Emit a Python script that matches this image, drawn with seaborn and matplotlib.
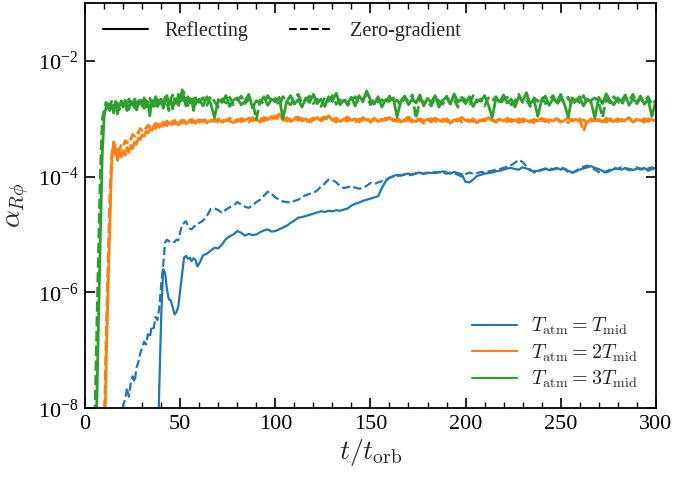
import numpy as np
import pandas as pd
import matplotlib
matplotlib.use("Agg")
import matplotlib.pyplot as plt
import seaborn as sns
from matplotlib.lines import Line2D
from matplotlib.ticker import FixedLocator, MultipleLocator, FuncFormatter, NullLocator

# ---------------- data (log10 of alpha_Rphi) ----------------
# time grid: 1 t_orb spacing up to 59, then 2 t_orb spacing up to 300
t_early = list(range(0, 60))
t_late = list(range(60, 301, 2))
t_orb = np.array(t_early + t_late, dtype=float)

blue_reflect = [
    -9, -9, -9, -9, -9, -9, -9, -9, -9, -9,
    -9, -9, -9, -9, -9, -9, -9, -9, -9, -9,
    -9, -9, -9, -9, -9, -9, -9, -9, -9, -9,
    -9, -9, -9, -9, -9, -9, -9, -9, -9, -7.6,
    -6.4, -5.6, -5.66, -5.95, -6.12, -6.14, -6.25, -6.38, -6.34, -6.24,
    -5.95, -5.68, -5.40, -5.37, -5.42, -5.40, -5.46, -5.41, -5.44, -5.55,
    # t = 60 .. 300 step 2
    -5.50, -5.36, -5.33, -5.28, -5.23, -5.24, -5.17, -5.08, -5.03, -5.00,
    -4.94, -4.97, -5.02, -4.99, -5.01, -5.00, -4.96, -4.93, -4.91, -4.95,
    -4.94, -4.91, -4.88, -4.85, -4.80, -4.76, -4.71, -4.70, -4.68, -4.66,
    -4.64, -4.62, -4.60, -4.61, -4.59, -4.60, -4.58, -4.59, -4.57, -4.55,
    -4.50, -4.47, -4.45, -4.42, -4.40, -4.38, -4.36, -4.34, -4.20, -4.08,
    -4.02, -3.99, -3.97, -3.98, -3.96, -3.95, -3.97, -3.94, -3.93, -3.95,
    -3.93, -3.94, -3.92, -3.93, -3.91, -3.93, -3.95, -3.92, -3.94, -3.96,
    -4.09, -4.10, -4.05, -3.99, -3.97, -3.95, -3.94, -3.93, -3.91, -3.90,
    -3.88, -3.86, -3.85, -3.87, -3.88, -3.84, -3.86, -3.89, -3.91, -3.90,
    -3.88, -3.86, -3.89, -3.87, -3.85, -3.88, -3.86, -3.90, -3.93, -3.91,
    -3.88, -3.86, -3.84, -3.82, -3.85, -3.87, -3.90, -3.93, -3.90, -3.87,
    -3.86, -3.88, -3.85, -3.87, -3.89, -3.86, -3.88, -3.85, -3.90, -3.87,
    -3.85,
]

blue_zerograd = [
    -9, -9, -9, -9, -9, -9, -9, -9, -9, -9,
    -9, -9, -9, -9, -9, -9, -9, -9, -9, -9,
    -7.95, -7.85, -7.65, -7.80, -7.55, -7.45, -7.55, -7.30, -7.20, -7.05,
    -6.95, -6.85, -6.90, -6.72, -6.78, -6.58, -6.62, -6.42, -6.48, -6.26,
    -5.85, -5.55, -5.14, -5.09, -5.12, -5.10, -5.12, -5.13, -5.09, -5.10,
    -4.95, -4.83, -4.80, -4.77, -4.85, -4.90, -4.91, -4.87, -4.84, -4.81,
    # t = 60 .. 300 step 2
    -4.80, -4.76, -4.68, -4.56, -4.55, -4.58, -4.63, -4.57, -4.53, -4.50,
    -4.44, -4.48, -4.52, -4.54, -4.50, -4.44, -4.40, -4.33, -4.26, -4.30,
    -4.36, -4.40, -4.43, -4.44, -4.45, -4.42, -4.40, -4.35, -4.32, -4.30,
    -4.28, -4.24, -4.17, -4.12, -4.05, -4.06, -4.10, -4.16, -4.20, -4.18,
    -4.17, -4.19, -4.21, -4.19, -4.16, -4.11, -4.13, -4.10, -4.08, -4.05,
    -4.02, -4.00, -3.99, -3.98, -3.97, -3.98, -3.96, -3.95, -3.94, -3.95,
    -3.94, -3.93, -3.94, -3.92, -3.93, -3.95, -3.93, -3.94, -3.97, -4.00,
    -3.96, -3.93, -3.95, -3.94, -3.92, -3.93, -3.91, -3.90, -3.88, -3.87,
    -3.85, -3.83, -3.80, -3.76, -3.71, -3.75, -3.82, -3.88, -3.93, -3.91,
    -3.89, -3.87, -3.85, -3.88, -3.86, -3.84, -3.87, -3.92, -3.94, -3.90,
    -3.86, -3.83, -3.81, -3.84, -3.88, -3.92, -3.94, -3.91, -3.88, -3.85,
    -3.87, -3.84, -3.86, -3.89, -3.87, -3.84, -3.86, -3.88, -3.86, -3.84,
    -3.87,
]

orange_reflect = [
    -9, -9, -9, -9, -9, -9, -9, -9, -9, -9,
    -9, -7.3, -6.0, -4.8, -3.7, -3.40, -3.52, -3.72, -3.58, -3.66,
    -3.55, -3.63, -3.50, -3.58, -3.46, -3.52, -3.40, -3.44, -3.33, -3.36,
    -3.28, -3.30, -3.22, -3.25, -3.18, -3.20, -3.14, -3.17, -3.12, -3.15,
    -3.10, -3.13, -3.08, -3.12, -3.06, -3.10, -3.04, -3.09, -3.07, -3.11,
    -3.05, -3.08, -3.03, -3.09, -3.06, -3.02, -3.07, -3.04, -3.08, -3.03,
    # t = 60 .. 300 step 2
    -3.06, -3.02, -3.07, -3.03, -3.05, -3.00, -3.06, -3.02, -3.04, -3.07,
    -3.01, -3.05, -3.03, -2.99, -3.04, -3.01, -3.06, -2.98, -3.02, -2.96,
    -3.00, -2.92, -3.03, -2.98, -3.05, -3.01, -2.97, -3.04, -3.00, -3.06,
    -3.02, -2.98, -3.04, -3.00, -2.95, -3.03, -2.99, -3.05, -3.01, -2.97,
    -3.03, -3.00, -3.06, -2.98, -3.02, -3.04, -2.99, -3.05, -3.01, -3.03,
    -2.98, -3.04, -3.00, -3.06, -3.02, -2.97, -3.03, -3.05, -3.00, -3.04,
    -3.01, -3.06, -2.99, -3.03, -3.05, -3.00, -3.08, -3.02, -3.04, -2.98,
    -3.03, -3.05, -3.00, -3.07, -3.02, -3.04, -2.98, -3.03, -3.06, -3.01,
    -3.04, -2.99, -3.05, -3.02, -3.07, -3.00, -3.03, -3.06, -3.01, -3.04,
    -2.99, -3.05, -3.02, -3.04, -3.00, -3.06, -3.03, -2.98, -3.04, -3.01,
    -3.05, -3.02, -3.07, -3.00, -3.04, -3.01, -3.06, -2.99, -3.03, -3.05,
    -3.00, -3.04, -3.02, -2.98, -3.05, -3.01, -3.03, -3.06, -3.00, -3.02,
    -3.04,
]

orange_zerograd = [
    -9, -9, -9, -9, -9, -9, -9, -9, -9, -9,
    -8.4, -6.8, -5.5, -4.3, -3.6, -3.48, -3.62, -3.50, -3.56, -3.44,
    -3.48, -3.38, -3.42, -3.33, -3.36, -3.27, -3.30, -3.22, -3.25, -3.17,
    -3.20, -3.14, -3.17, -3.11, -3.15, -3.09, -3.13, -3.08, -3.12, -3.07,
    -3.11, -3.06, -3.09, -3.04, -3.08, -3.05, -3.10, -3.03, -3.07, -3.04,
    -3.08, -3.02, -3.06, -3.03, -3.07, -3.05, -3.01, -3.06, -3.03, -3.07,
    # t = 60 .. 300 step 2
    -3.02, -3.05, -3.00, -3.04, -3.01, -3.06, -3.02, -3.04, -2.99, -3.03,
    -3.05, -3.00, -3.02, -3.06, -2.98, -3.03, -3.00, -3.04, -2.97, -3.01,
    -2.95, -3.02, -2.99, -3.04, -3.00, -2.96, -3.03, -2.99, -3.05, -3.02,
    -2.99, -3.03, -3.00, -2.97, -3.04, -3.01, -3.06, -2.98, -3.02, -3.04,
    -3.00, -3.05, -3.01, -3.03, -2.98, -3.06, -3.02, -3.00, -3.04, -2.99,
    -3.03, -3.01, -3.05, -2.99, -3.04, -3.02, -3.06, -3.00, -3.03, -3.08,
    -3.02, -3.00, -3.04, -3.06, -3.01, -3.05, -3.02, -3.04, -3.00, -3.06,
    -3.01, -3.03, -3.05, -2.99, -3.04, -3.00, -3.06, -3.02, -3.04, -3.00,
    -3.02, -3.05, -3.01, -3.04, -3.00, -3.06, -3.02, -3.03, -3.07, -3.00,
    -3.04, -3.01, -3.06, -3.02, -3.00, -3.05, -3.03, -3.07, -3.01, -3.04,
    -3.00, -3.22, -3.03, -3.05, -3.01, -3.04, -3.02, -3.06, -3.00, -3.03,
    -3.05, -3.01, -3.04, -3.00, -3.06, -3.02, -3.04, -3.00, -3.05, -3.01,
    -3.03,
]

green_reflect = [
    -9, -9, -9, -9, -9, -9, -8.1, -6.5, -5.0, -3.6,
    -2.95, -2.80, -2.74, -2.86, -2.76, -2.83, -2.70, -2.92, -2.78, -2.72,
    -2.80, -2.68, -2.75, -2.84, -2.70, -2.77, -2.66, -2.85, -2.73, -2.69,
    -2.78, -2.64, -2.80, -2.71, -2.95, -2.68, -2.74, -2.62, -2.79, -2.70,
    -2.66, -2.82, -2.72, -2.60, -2.76, -2.69, -2.83, -2.65, -2.74, -2.58,
    -2.70, -2.50, -2.66, -2.78, -2.62, -2.73, -2.68, -2.86, -2.64, -2.71,
    # t = 60 .. 300 step 2
    -2.66, -2.78, -2.62, -2.74, -2.98, -2.67, -2.72, -2.60, -2.79, -2.68,
    -2.64, -2.76, -2.70, -2.58, -2.81, -2.69, -2.73, -2.62, -2.77, -2.66,
    -2.71, -2.63, -3.00, -2.70, -2.60, -2.75, -2.67, -2.80, -2.64, -2.72,
    -2.58, -2.74, -2.66, -2.79, -2.62, -2.70, -2.56, -2.76, -2.68, -2.73,
    -2.63, -2.78, -2.60, -2.71, -2.52, -2.68, -2.75, -2.62, -2.80, -2.67,
    -2.70, -2.64, -2.97, -2.69, -2.61, -2.76, -2.66, -2.73, -2.59, -2.78,
    -2.65, -2.72, -2.60, -2.80, -2.68, -2.63, -2.75, -2.57, -2.71, -2.66,
    -2.74, -2.62, -2.79, -2.67, -2.70, -2.60, -2.76, -2.98, -2.65, -2.71,
    -2.59, -2.73, -2.66, -2.80, -2.62, -2.70, -2.55, -2.74, -2.67, -2.96,
    -2.68, -2.61, -2.77, -2.65, -2.72, -2.58, -2.75, -2.97, -2.64, -2.70,
    -2.62, -2.78, -2.66, -2.71, -2.99, -2.63, -2.74, -2.57, -2.69, -2.76,
    -2.64, -2.70, -2.59, -2.77, -2.66, -2.72, -2.61, -2.75, -2.67, -2.96,
    -2.70,
]

green_zerograd = [
    -9, -9, -9, -9, -9, -8.3, -6.8, -5.3, -3.9, -3.0,
    -2.85, -2.72, -2.88, -2.76, -2.70, -2.90, -2.79, -2.73, -2.84, -2.69,
    -2.77, -2.71, -2.86, -2.66, -2.78, -2.72, -2.81, -2.67, -2.76, -2.63,
    -2.74, -2.82, -2.68, -2.77, -2.65, -2.73, -2.84, -2.69, -2.61, -2.75,
    -2.70, -2.78, -2.63, -2.72, -2.86, -2.66, -2.59, -2.74, -2.68, -2.80,
    -2.63, -2.71, -2.54, -2.69, -2.77, -2.65, -2.72, -2.60, -2.75, -2.67,
    # t = 60 .. 300 step 2
    -2.72, -2.64, -2.77, -2.61, -2.70, -2.80, -2.66, -2.73, -2.63, -2.76,
    -2.69, -2.61, -2.74, -2.66, -2.70, -3.02, -2.68, -2.75, -2.60, -2.71,
    -2.65, -2.78, -2.62, -2.70, -2.76, -2.64, -2.58, -2.73, -2.68, -2.61,
    -2.74, -2.66, -2.79, -2.63, -2.70, -2.60, -2.75, -2.68, -2.64, -2.77,
    -2.69, -2.62, -2.73, -2.66, -2.58, -2.76, -2.64, -2.71, -2.67, -2.74,
    -2.61, -2.72, -2.68, -2.77, -2.63, -2.70, -2.59, -3.00, -2.66, -2.72,
    -2.70, -2.78, -2.64, -2.69, -2.75, -2.61, -2.73, -2.67, -2.80, -2.63,
    -2.68, -2.75, -2.60, -2.71, -2.66, -2.78, -2.64, -2.70, -2.62, -2.74,
    -2.67, -2.63, -2.76, -2.69, -2.58, -2.72, -2.66, -2.79, -2.64, -2.70,
    -2.62, -2.74, -2.68, -2.60, -2.76, -2.66, -2.71, -2.63, -2.78, -2.67,
    -2.72, -2.60, -2.75, -2.68, -2.64, -2.71, -2.98, -2.66, -2.73, -2.62,
    -2.70, -2.77, -2.63, -2.69, -2.58, -2.74, -2.66, -2.71, -2.62, -2.76,
    -2.68,
]

case_labels = [r'$T_{\rm atm}=T_{\rm mid}$', r'$T_{\rm atm}=2T_{\rm mid}$',
               r'$T_{\rm atm}=3T_{\rm mid}$']
bc_labels = ['Reflecting', 'Zero-gradient']
colors = ['#1f77b4', '#ff7f0e', '#2ca02c']
line_widths = [1.6, 2.0, 2.0]

series = [
    (0, 0, blue_reflect), (0, 1, blue_zerograd),
    (1, 0, orange_reflect), (1, 1, orange_zerograd),
    (2, 0, green_reflect), (2, 1, green_zerograd),
]

# ---------------- style ----------------
sns.set_theme(style="ticks")
plt.rcParams['font.family'] = ['Liberation Serif', 'DejaVu Serif']
plt.rcParams['mathtext.fontset'] = 'cm'
plt.rcParams['axes.linewidth'] = 1.3

fig, ax = plt.subplots(figsize=(6.76, 4.78), dpi=100)
fig.subplots_adjust(left=0.126, right=0.970, bottom=0.146, top=0.994)

for ci, bi, vals in series:
    df = pd.DataFrame({'t': t_orb, 'alpha': 10.0 ** np.array(vals, dtype=float)})
    sns.lineplot(data=df, x='t', y='alpha', ax=ax, color=colors[ci],
                 linestyle='-' if bi == 0 else '--', lw=line_widths[ci],
                 estimator=None, sort=False)

ax.set_yscale('log')
ax.set_xlim(0, 300)
ax.set_ylim(1e-8, 1e-1)
ax.xaxis.set_major_locator(MultipleLocator(50))
ax.xaxis.set_minor_locator(MultipleLocator(10))
ax.yaxis.set_major_locator(FixedLocator([1e-8, 1e-6, 1e-4, 1e-2]))
ax.yaxis.set_minor_locator(NullLocator())
ax.yaxis.set_major_formatter(FuncFormatter(
    lambda v, _: r'$\mathregular{10^{%d}}$' % int(round(np.log10(v)))))
ax.tick_params(which='both', direction='in', top=True, right=True,
               labelsize=16, colors='black')
ax.tick_params(which='major', length=7, width=1.2, pad=5)
ax.tick_params(which='minor', length=4, width=1.0)
for s in ax.spines.values():
    s.set_color('black')

ax.set_xlabel(r'$t/t_{\rm orb}$', fontsize=20, labelpad=2)
ax.set_ylabel(r'$\alpha_{R\phi}$', fontsize=20, labelpad=4)

# legends
style_handles = [Line2D([], [], color='black', lw=1.5, linestyle='-'),
                 Line2D([], [], color='black', lw=1.5, linestyle='--')]
leg1 = ax.legend(style_handles, bc_labels, loc='upper left', ncol=2,
                 frameon=False, fontsize=14.5, handlelength=2.2,
                 handletextpad=0.85, columnspacing=2.0)
ax.add_artist(leg1)
color_handles = [Line2D([], [], color=c, lw=1.5) for c in colors]
ax.legend(color_handles, case_labels, loc='lower right', frameon=False,
          fontsize=14.5, handlelength=2.2, handletextpad=0.7, labelspacing=0.25)

fig.savefig('out.png', dpi=100)
